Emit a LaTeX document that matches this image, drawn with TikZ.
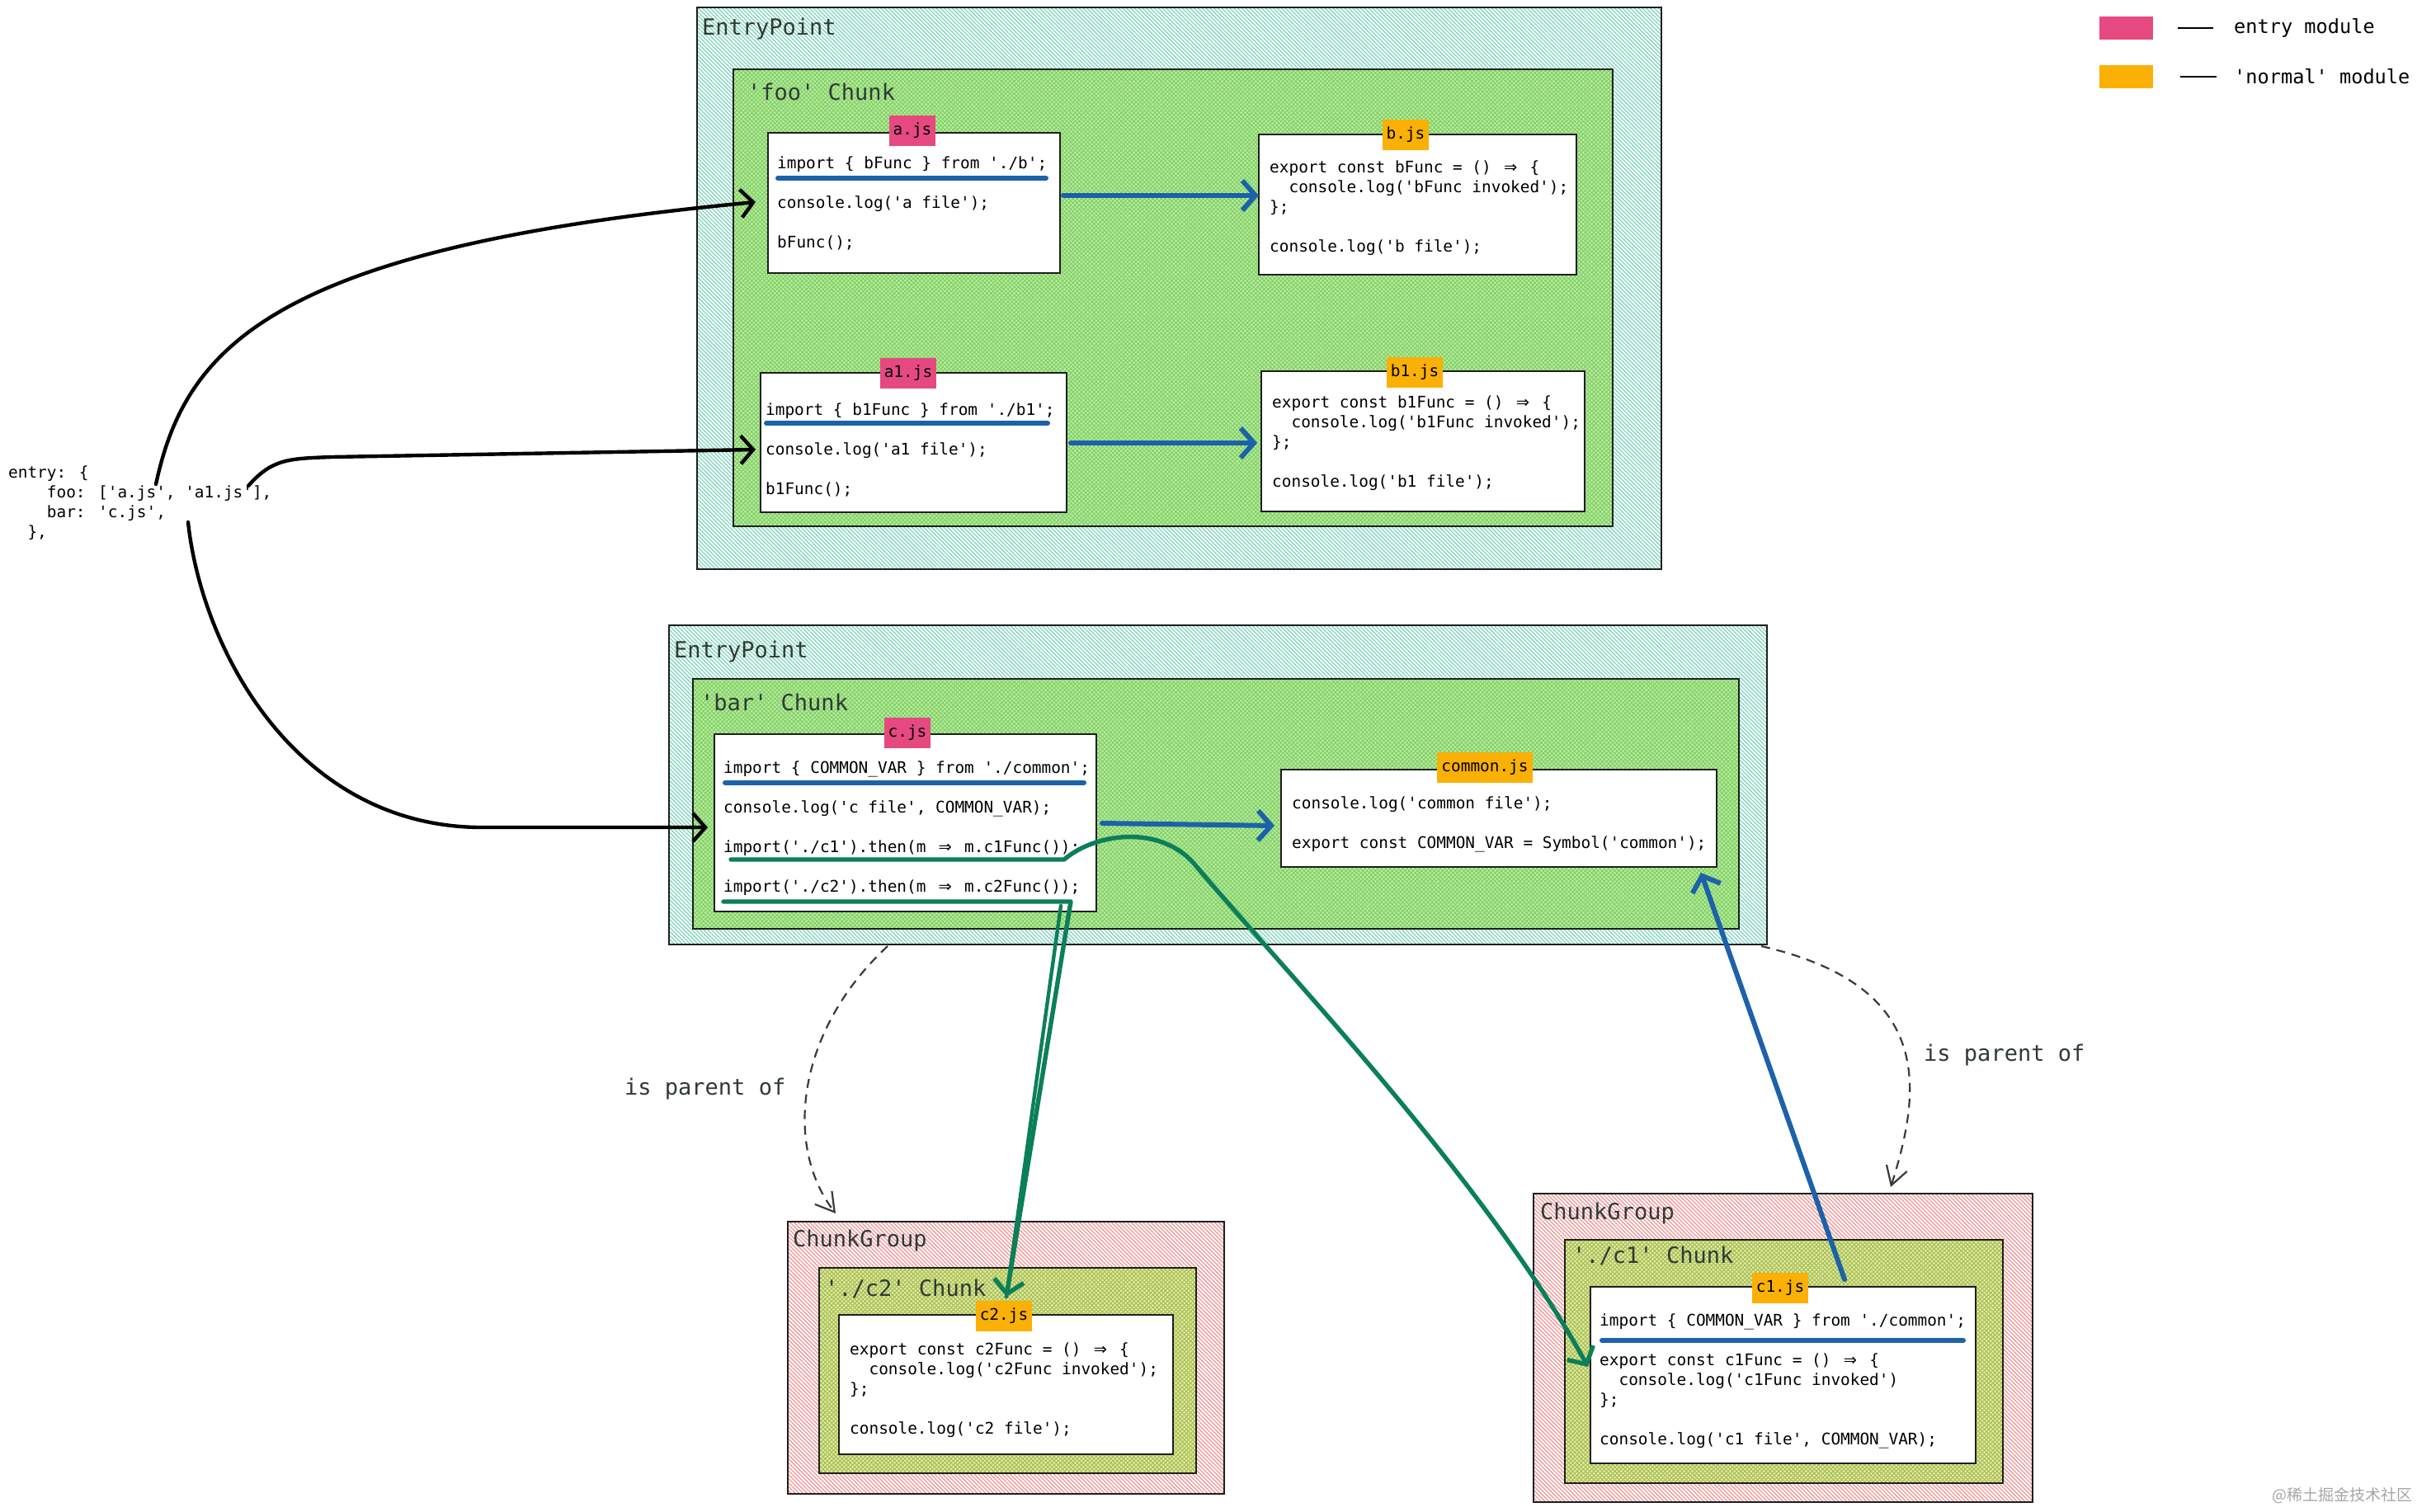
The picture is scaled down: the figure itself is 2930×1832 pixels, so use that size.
\documentclass[tikz,border=0pt]{standalone}
\usepackage{fontspec}
\newfontfamily\codefont{DejaVu Sans Mono}
\newfontfamily\symfont{DejaVu Sans}
\newfontfamily\cjkfont{Noto Sans CJK SC}
\usetikzlibrary{arrows.meta,patterns.meta,fit}
\definecolor{strokec}{HTML}{1E1E1E}
\definecolor{titlec}{HTML}{2F3A37}
\definecolor{epline}{HTML}{7FD6BC}
\definecolor{chunkbg}{HTML}{BFEDAA}
\definecolor{chunkline}{HTML}{84D266}
\definecolor{cgline}{HTML}{F09696}
\definecolor{ccbg}{HTML}{E4ECBA}
\definecolor{ccline}{HTML}{ABC24E}
\definecolor{pinkc}{HTML}{E64980}
\definecolor{orangec}{HTML}{FAB005}
\definecolor{bluec}{HTML}{1C62A9}
\definecolor{greenc}{HTML}{0B7F59}
\definecolor{dashc}{HTML}{3A3A3A}
\newcommand\ind[1]{\hspace*{#1\dimexpr0.602em\relax}}
\newcommand\darr{\makebox[1.204em][c]{\symfont ⇒}}
\newcommand\codeblock[1]{\begin{tabular}[t]{@{}l@{}}#1\end{tabular}}
\tikzset{
  epbox/.style={preaction={fill=white}, pattern={Lines[angle=-45,distance=3.4pt,line width=1.3pt]}, pattern color=epline, draw=strokec, line width=2pt, inner sep=0pt, outer sep=0pt},
  chunkbox/.style={preaction={fill=chunkbg}, pattern={Hatch[angle=45,distance=3.6pt,line width=1.2pt]}, pattern color=chunkline, draw=strokec, line width=2pt, inner sep=0pt, outer sep=0pt},
  cgbox/.style={preaction={fill=white}, pattern={Lines[angle=-45,distance=3.4pt,line width=1.3pt]}, pattern color=cgline, draw=strokec, line width=2pt, inner sep=0pt, outer sep=0pt},
  ccbox/.style={preaction={fill=ccbg}, pattern={Hatch[angle=45,distance=3.6pt,line width=1.2pt]}, pattern color=ccline, draw=strokec, line width=2pt, inner sep=0pt, outer sep=0pt},
  filebox/.style={fill=white, draw=strokec, line width=2pt, inner sep=0pt, outer sep=0pt},
  code/.style={font=\codefont\fontsize{19.4}{24}\selectfont, text=black, inner sep=0pt, anchor=base west},
  title/.style={font=\codefont\fontsize{27}{32}\selectfont, text=titlec, inner sep=0pt, anchor=base west},
  lbl/.style={font=\codefont\fontsize{19.4}{24}\selectfont, text=black, inner xsep=5pt, inner ysep=0pt, minimum height=37pt},
  legtxt/.style={font=\codefont\fontsize{23.6}{28}\selectfont, text=black, inner sep=0pt, anchor=west},
  blackarrow/.style={draw=black, line width=4.4pt, line cap=round, line join=round, -{Straight Barb[length=15pt,width=34pt]}},
  bluearrow/.style={draw=bluec, line width=6pt, line cap=round, line join=round, -{Straight Barb[length=16pt,width=36pt]}},
  greenarrow/.style={draw=greenc, line width=5.4pt, line cap=round, line join=round, -{Straight Barb[length=16pt,width=36pt]}},
  greenline/.style={draw=greenc, line width=4.4pt, line cap=round},
  blueline/.style={draw=bluec, line width=6pt, line cap=round},
  dasharrow/.style={draw=dashc, line width=2.2pt, dash pattern=on 11pt off 8pt, -{Straight Barb[length=22pt,width=26pt]}},
}
\begin{document}
\begin{tikzpicture}[x=1pt,y=-1pt]
\useasboundingbox[fill=white] (0,0) rectangle (2930,1832);

% ---------- foo entry point ----------
\node[epbox, fit={(845,9) (2014,690)}] (ep1) {};
\node[chunkbox, fit={(889,84) (1955,638)}] (foo) {};
\node[title] (ep1t) at (851,42) {EntryPoint};
\node[title] (foot) at (906,121) {'foo' Chunk};

\node[filebox, fit={(931,161) (1285,331)}] (ajs) {};
\node[filebox, fit={(1526,163) (1911,333)}] (bjs) {};
\node[filebox, fit={(922,452) (1293,621)}] (a1js) {};
\node[filebox, fit={(1529,450) (1921,620)}] (b1js) {};

\node[lbl, fill=pinkc] (ajsl) at (1106,158.5) {a.js};
\node[lbl, fill=orangec] (bjsl) at (1704,163.5) {b.js};
\node[lbl, fill=pinkc] (a1jsl) at (1101,452) {a1.js};
\node[lbl, fill=orangec] (b1jsl) at (1715,451) {b1.js};

\node[code] (ajstxt) at (942,204) {\codeblock{import \{ bFunc \} from './b';\\[24pt] console.log('a file');\\[24pt] bFunc();}};
\node[code] (bjstxt) at (1539,209) {\codeblock{export const bFunc = () \darr{} \{\\ \ind{2}console.log('bFunc invoked');\\ \};\\[24pt] console.log('b file');}};
\node[code] (a1jstxt) at (928,503) {\codeblock{import \{ b1Func \} from './b1';\\[24pt] console.log('a1 file');\\[24pt] b1Func();}};
\node[code] (b1jstxt) at (1542,494) {\codeblock{export const b1Func = () \darr{} \{\\ \ind{2}console.log('b1Func invoked');\\ \};\\[24pt] console.log('b1 file');}};

% ---------- bar entry point ----------
\node[epbox, fit={(811,758) (2142,1145)}] (ep2) {};
\node[chunkbox, fit={(840,823) (2108,1126)}] (bar) {};
\node[title] (ep2t) at (817,797) {EntryPoint};
\node[title] (bart) at (849,861) {'bar' Chunk};

\node[filebox, fit={(866,890) (1329,1105)}] (cjs) {};
\node[filebox, fit={(1553,933) (2081,1051)}] (commonjs) {};
\node[lbl, fill=pinkc] (cjsl) at (1100,888) {c.js};
\node[lbl, fill=orangec] (commonjsl) at (1800,930) {common.js};

\node[code] (cjstxt) at (877,937) {\codeblock{import \{ COMMON\_VAR \} from './common';\\[24pt] console.log('c file', COMMON\_VAR);\\[24pt] import('./c1').then(m \darr{} m.c1Func());\\[24pt] import('./c2').then(m \darr{} m.c2Func());}};
\node[code] (commontxt) at (1566,980) {\codeblock{console.log('common file');\\[24pt] export const COMMON\_VAR = Symbol('common');}};

% ---------- c2 chunk group ----------
\node[cgbox, fit={(955,1481) (1484,1811)}] (cg2) {};
\node[ccbox, fit={(993,1537) (1450,1786)}] (c2chunk) {};
\node[title] (cg2t) at (961,1511) {ChunkGroup};
\node[title] (c2t) at (1000,1571) {'./c2' Chunk};
\node[filebox, fit={(1017,1594) (1422,1763)}] (c2js) {};
\node[lbl, fill=orangec] (c2jsl) at (1217,1595) {c2.js};
\node[code] (c2txt) at (1030,1642) {\codeblock{export const c2Func = () \darr{} \{\\ \ind{2}console.log('c2Func invoked');\\ \};\\[24pt] console.log('c2 file');}};

% ---------- c1 chunk group ----------
\node[cgbox, fit={(1859,1447) (2464,1821)}] (cg1) {};
\node[ccbox, fit={(1897,1503) (2428,1798)}] (c1chunk) {};
\node[title] (cg1t) at (1867,1478) {ChunkGroup};
\node[title] (c1t) at (1906,1531) {'./c1' Chunk};
\node[filebox, fit={(1928,1560) (2395,1774)}] (c1js) {};
\node[lbl, fill=orangec] (c1jsl) at (2158,1561) {c1.js};
\node[code] (c1txt) at (1939,1607) {\codeblock{import \{ COMMON\_VAR \} from './common';\\[24pt] export const c1Func = () \darr{} \{\\ \ind{2}console.log('c1Func invoked')\\ \};\\[24pt] console.log('c1 file', COMMON\_VAR);}};

% ---------- entry config ----------
\node[code] (entry) at (10,579) {\codeblock{entry: \{\\ \ind{4}foo: ['a.js', 'a1.js'],\\ \ind{4}bar: 'c.js',\\ \ind{2}\},}};

% ---------- legend ----------
\node[fill=pinkc, fit={(2545,20) (2610,48)}, inner sep=0pt] (legpink) {};
\node[fill=orangec, fit={(2545,79) (2610,107)}, inner sep=0pt] (legorange) {};
\node[legtxt] (legentry) at (2708,34) {entry module};
\node[legtxt] (legnormal) at (2708,93) {'normal' module};
\coordinate (lp1) at (2640,34); \coordinate (lp2) at (2683,34);
\coordinate (lo1) at (2643,93); \coordinate (lo2) at (2687,93);
\draw[black, line width=2.2pt] (lp1) -- (lp2);
\draw[black, line width=2.2pt] (lo1) -- (lo2);

% ---------- underlines ----------
\coordinate (ua1) at (943,216); \coordinate (ua2) at (1268,216);
\coordinate (ua11) at (929,513); \coordinate (ua12) at (1270,513);
\coordinate (uc1) at (879,949); \coordinate (uc2) at (1314,949);
\coordinate (uk1) at (1942,1625); \coordinate (uk2) at (2380,1625);
\draw[blueline] (ua1) -- (ua2);
\draw[blueline] (ua11) -- (ua12);
\draw[blueline] (uc1) -- (uc2);
\draw[blueline] (uk1) -- (uk2);

% ---------- import arrows ----------
\coordinate (ab1) at (1289,237); \coordinate (ab2) at (1526,237);
\coordinate (ab11) at (1298,537); \coordinate (ab12) at (1524,537);
\coordinate (cc1) at (1336,998); \coordinate (cc2) at (1545,1001);
\draw[bluearrow] (ab1) -- (ab2);
\draw[bluearrow] (ab11) -- (ab12);
\draw[bluearrow] (cc1) -- (cc2);
\coordinate (k1s) at (2236,1551); \coordinate (k1e) at (2062,1058);
\draw[bluearrow] (k1s) -- (k1e);

% ---------- entry arrows ----------
\coordinate (e1s) at (189,587); \coordinate (e1e) at (916,245);
\coordinate (e2s) at (301,589); \coordinate (e2m) at (402,554); \coordinate (e2e) at (916,545);
\coordinate (e3s) at (228,633); \coordinate (e3m) at (580,1003); \coordinate (e3e) at (858,1003);
\draw[blackarrow] (e1s) .. controls (225,420) and (330,300) .. (e1e);
\draw[blackarrow] (e2s) .. controls (330,556) and (350,556) .. (e2m) -- (e2e);
\draw[blackarrow] (e3s) .. controls (245,790) and (360,1000) .. (e3m) -- (e3e);

% ---------- dynamic import arrows ----------
\coordinate (g1s) at (886,1042); \coordinate (g1m) at (1290,1042); \coordinate (g1n) at (1450,1050); \coordinate (g1e) at (1925,1657);
\draw[greenarrow] (g1s) -- (g1m) .. controls (1330,1008) and (1410,1000) .. (g1n) .. controls (1560,1180) and (1800,1430) .. (g1e);
\coordinate (g2s) at (877,1093); \coordinate (g2m) at (1298,1093); \coordinate (g2e) at (1220,1572);
\coordinate (g2b) at (1286,1098);
\draw[greenarrow] (g2s) -- (g2m) -- (g2e);
\draw[greenline] (g2b) -- (g2e);

% ---------- parent arrows ----------
\coordinate (p1s) at (1076,1147); \coordinate (p1e) at (1013,1471);
\coordinate (p2s) at (2135,1147); \coordinate (p2e) at (2292,1439);
\draw[dasharrow] (p1s) .. controls (965,1250) and (950,1390) .. (p1e);
\draw[dasharrow] (p2s) .. controls (2345,1195) and (2330,1320) .. (p2e);
\node[title] (par1) at (757,1327) {is parent of};
\node[title] (par2) at (2332,1286) {is parent of};

% ---------- watermark ----------
\node[font=\cjkfont\fontsize{19}{22}\selectfont, text=black!35, anchor=east, inner sep=0pt] (wm) at (2925,1813) {@稀土掘金技术社区};
\end{tikzpicture}
\end{document}
